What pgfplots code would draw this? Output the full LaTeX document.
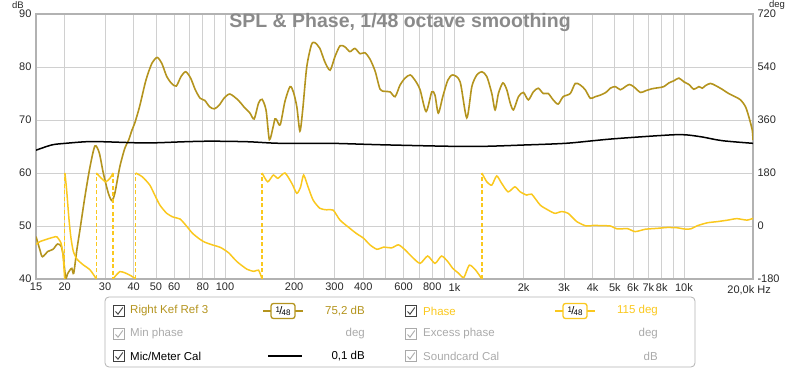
\documentclass[border=0pt]{standalone}
\usepackage{pgfplots}
\pgfplotsset{compat=1.18}
\usepackage{fontspec}
\setmainfont{Liberation Sans}
\definecolor{splc}{RGB}{180,148,30}
\definecolor{phc}{RGB}{250,200,30}
\definecolor{gridc}{RGB}{208,208,208}
\definecolor{framec}{RGB}{178,178,178}
\definecolor{titlec}{RGB}{138,138,138}
\definecolor{dimc}{RGB}{170,170,170}
\definecolor{tickc}{RGB}{40,40,40}

\newcommand{\chk}[3]{%
  \draw[#3, line width=0.6pt] (#1-5.5pt,#2-5.5pt) rectangle (#1+5.5pt,#2+5.5pt);
  \draw[#3, line width=0.9pt] (#1-3.5pt,#2-0.5pt) -- (#1-1pt,#2-3.2pt) -- (#1+3.8pt,#2+3.5pt);
}
\newcommand{\badge}[3]{%
  \draw[#3, line width=1.3pt] (#1-20pt,#2) -- (#1+20pt,#2);
  \node[draw=#3, fill=white, line width=1.3pt, rounded corners=2.5pt, inner sep=0.5pt,
        minimum width=24pt, minimum height=15pt, text=black] at (#1,#2)
        {\raisebox{2pt}{\fontsize{8}{8}\selectfont 1}\kern-0.6pt{\fontsize{11}{11}\selectfont/}\kern-0.8pt\raisebox{-0.8pt}{\fontsize{8}{8}\selectfont 48}};
}

\begin{document}
\begin{tikzpicture}[font=\fontsize{11.5}{13}\selectfont]
\useasboundingbox (-36pt,-92pt) rectangle (764pt,279pt);

\begin{axis}[
  at={(0pt,0pt)}, anchor=south west, scale only axis,
  width=717pt, height=265pt,
  xmode=log, xmin=15, xmax=20000, ymin=40, ymax=90,
  xtick={15,20,30,40,50,60,70,80,90,100,200,300,400,500,600,700,800,900,1000,2000,3000,4000,5000,6000,7000,8000,9000,10000,20000},
  xticklabels={15,20,30,40,50,60,,80,,100,200,300,400,,600,,800,,1k,2k,3k,4k,5k,6k,7k,8k,,10k,},
  ytick={40,50,60,70,80,90},
  yticklabels={40,50,60,70,80,90},
  grid=major,
  major grid style={gridc, line width=0.8pt},
  major tick length=0pt,
  axis line style={framec, line width=1.6pt},
  xticklabel style={text=tickc, font=\fontsize{11}{12}\selectfont, yshift=-0.5pt},
  yticklabel style={text=tickc, font=\fontsize{11}{12}\selectfont, xshift=-1pt},
]
% SPL (Right Kef Ref 3)
\addplot[splc, line width=1.6pt, smooth, tension=0.45] coordinates {
(15,48.0)(15.6,45.5)(16,44.2)(16.9,45.2)(17.8,45.6)(18.6,46.6)(19.3,46.2)(19.7,44.5)(20.2,40.2)(20.6,41.0)(21.1,41.7)(21.5,42.0)(21.9,41.1)(22.6,45.5)(23.3,49.2)(24.5,55.5)(25.8,61.2)(27.1,65.1)(28.3,63.8)(29.5,59.9)(31.0,56.2)(32.1,54.8)(33.1,56.2)(34.8,61.2)(36.6,64.7)(38.0,66.2)(39.3,68.1)(40.4,69.4)(42.4,72.5)(45.2,77.5)(48,80.7)(50.6,81.8)(53,80.7)(55.7,78.2)(58.5,76.9)(61.3,76.4)(64.3,78.2)(67.4,79.1)(70.8,77.9)(74.2,75.7)(77.9,74.1)(81.6,73.7)(85.6,72.5)(89.8,72.1)(94.3,72.8)(99,74.1)(105,74.9)(114.4,73.7)(120.7,72.5)(128.4,71.3)(133.9,70.2)(140,73.2)(145,73.9)(151,71.8)(156,66.3)(162,68.7)(165,70.2)(168,70.0)(174,69.1)(182.4,73.5)(192,76.3)(198.5,75.3)(205.5,72.5)(212,67.9)(218,71.9)(227,80)(238,84.2)(246,84.6)(259,83.5)(272,81)(287,79.4)(301,81.9)(317,84)(333,83.8)(350,82.9)(368,83.5)(388,82.5)(407,82.7)(428,81.5)(451,79.2)(474,75.8)(498,75.4)(524,75.3)(551,74.4)(579,76.6)(609,77.9)(641,78.5)(673,77.5)(708,75.7)(752,71.6)(796,75.3)(822,74.7)(850,71.3)(889,74.4)(935,77.5)(983,78.5)(1058,77.2)(1131,70.4)(1190,76.3)(1251,78.5)(1316,79.1)(1383,78.2)(1454,75)(1503,71.9)(1554,75)(1625,77)(1690,75.7)(1749,73.2)(1808,71.9)(1900,74.4)(1997,75.2)(2098,73.8)(2205,75.3)(2318,76)(2436,75)(2561,75)(2692,73.8)(2830,73)(2975,74.4)(3196,75)(3360,76.9)(3534,76.6)(3715,75.7)(3908,74.1)(4109,74.4)(4321,74.7)(4570,75.2)(4777,76)(5024,76.3)(5283,75.7)(5555,76.3)(5783,76.7)(6032,76.3)(6458,75.2)(6791,75.5)(7265,75.9)(7777,76.1)(8178,76.3)(8598,77)(9041,77.4)(9507,77.9)(9996,77.2)(10510,76.7)(11050,75.8)(11620,76.3)(12010,76)(12430,76.5)(13050,76.9)(13730,76.5)(14670,75.8)(15660,75)(16690,74.4)(17640,73.8)(18550,72.5)(19180,70.6)(19850,68.1)(20000,66.2)
};
% Mic/Meter Cal
\addplot[black, line width=1.5pt, smooth] coordinates {
(15,64.3)(17.6,65.3)(20.2,65.6)(24.8,65.9)(29.3,65.9)(40.8,65.7)(50,65.7)(67,65.9)(86.7,66.0)(125,65.9)(173.6,65.6)(287,65.6)(506,65.3)(1170,65.0)(2064,65.3)(3050,65.6)(4040,66.1)(4777,66.4)(6370,66.8)(8890,67.2)(10200,67.2)(12000,66.8)(14670,66.1)(20000,65.6)
};
\end{axis}

\begin{axis}[
  at={(0pt,0pt)}, anchor=south west, scale only axis,
  width=717pt, height=265pt,
  xmode=log, xmin=15, xmax=20000, ymin=-180, ymax=720,
  axis x line=none, axis y line*=right,
  y axis line style={draw=none},
  ytick={-180,0,180,360,540,720},
  yticklabels={-180,0,180,360,540,720},
  major tick length=0pt,
  yticklabel style={text=tickc, font=\fontsize{11}{12}\selectfont, xshift=1pt},
]
\addplot[phc, line width=1.5pt, smooth, tension=0.4] coordinates {
(15,-62)(15.6,-53)(16.7,-45)(17.9,-38)(18.5,-37)(19.3,-59)(19.7,-104)(20,-180)};
\addplot[phc, line width=1.3pt, dash pattern=on 4pt off 2.5pt] coordinates {(20,-180)(20,180)};
\addplot[phc, line width=1.5pt, smooth, tension=0.4] coordinates {
(20.05,180)(20.4,122)(20.9,20)(21.3,-40)(21.8,-85)(22.6,-112)(24.1,-132)(25.8,-149)(27.5,-180)};
\addplot[phc, line width=1.3pt, dash pattern=on 4pt off 2.5pt] coordinates {(27.5,-180)(27.5,180)};
\addplot[phc, line width=1.5pt, smooth, tension=0.4] coordinates {
(27.5,180)(28.9,162)(30.2,150)(31.5,162)(32.5,180)};
\addplot[phc, line width=1.3pt, dash pattern=on 4pt off 2.5pt] coordinates {(32.5,180)(32.5,-180)};
\addplot[phc, line width=1.5pt, smooth, tension=0.4] coordinates {
(32.5,-180)(33.1,-172)(34.8,-155)(36.6,-159)(38.9,-169)(40.8,-180)};
\addplot[phc, line width=1.3pt, dash pattern=on 4pt off 2.5pt] coordinates {(40.8,-180)(40.8,180)};
\addplot[phc, line width=1.5pt, smooth, tension=0.4] coordinates {
(40.8,180)(43.6,167)(47,139)(49.4,105)(52,71)(55.7,43)(59.5,30)(63.6,24)(67.4,3)(72.2,-25)(77.7,-45)(81.6,-55)(88,-64)(95,-72)(99,-80)(104,-92)(112.7,-121)(124.7,-147)(133.8,-154)(140,-150)(145,-180)};
\addplot[phc, line width=1.3pt, dash pattern=on 4pt off 2.5pt] coordinates {(145,-180)(145,180)};
\addplot[phc, line width=1.5pt, smooth, tension=0.4] coordinates {
(145,180)(153.4,150)(162.3,173)(170,162)(182.4,180)(195.4,145)(205.5,111)(213.5,133)(220,173)(230,133)(242,88)(259,60)(277,55)(296,54)(317,20)(350,-8)(373,-25)(402,-42)(428,-64)(459,-79)(490,-72)(533,-74)(570,-64)(609,-81)(651,-104)(708,-127)(764,-102)(822,-127)(878,-102)(935,-121)(983,-144)(1040,-160)(1098,-175)(1160,-133)(1237,-150)(1316,-180)};
\addplot[phc, line width=1.3pt, dash pattern=on 4pt off 2.5pt] coordinates {(1316,-180)(1316,180)};
\addplot[phc, line width=1.5pt, smooth, tension=0.4] coordinates {
(1316,180)(1383,150)(1454,139)(1527,170)(1605,145)(1713,116)(1833,133)(1934,116)(2064,105)(2170,108)(2364,71)(2561,54)(2740,43)(2930,49)(3130,43)(3410,15)(3750,0)(4040,2)(4440,1)(4777,0)(5130,-10)(5670,-9)(6130,-19)(6790,-11)(7645,-8)(8450,-5)(9350,-6)(9990,-10)(10680,-10)(11440,1)(12670,11)(14020,15)(15530,20)(17000,25)(18800,20)(20000,26)};
\end{axis}

% title and unit labels
\node[font=\fontsize{19.5}{22}\selectfont\bfseries, text=titlec] at (364pt,256pt) {SPL \& Phase, 1/48 octave smoothing};
\node[text=tickc, font=\fontsize{9.5}{11}\selectfont] at (-18pt,274pt) {dB};
\node[text=tickc, font=\fontsize{9.5}{11}\selectfont] at (741pt,274pt) {deg};
\node[text=tickc, anchor=north east, inner sep=0pt, font=\fontsize{11}{12}\selectfont] at (735pt,-6.5pt) {20,0k Hz};

% legend panel
\draw[framec, rounded corners=4pt, line width=0.8pt] (69pt,-18pt) rectangle (659pt,-88pt);
\chk{83pt}{-32pt}{black!75}
\chk{83pt}{-55pt}{dimc}
\chk{83pt}{-77pt}{black!75}
\chk{375pt}{-32pt}{black!75}
\chk{375pt}{-55pt}{dimc}
\chk{375pt}{-77pt}{dimc}
\begin{scope}[every node/.style={inner sep=0pt}]
\node[anchor=west, text=splc] at (94pt,-32pt) {Right Kef Ref 3};
\node[anchor=east, text=splc] at (329pt,-32pt) {75,2 dB};
\node[anchor=west, text=phc] at (387pt,-32pt) {Phase};
\node[anchor=east, text=phc] at (622pt,-32pt) {115 deg};
\node[anchor=west, text=dimc] at (94pt,-55pt) {Min phase};
\node[anchor=east, text=dimc] at (329pt,-55pt) {deg};
\node[anchor=west, text=dimc] at (387pt,-55pt) {Excess phase};
\node[anchor=east, text=dimc] at (622pt,-55pt) {deg};
\node[anchor=west, text=black] at (94pt,-77pt) {Mic/Meter Cal};
\node[anchor=east, text=black] at (329pt,-77pt) {0,1 dB};
\node[anchor=west, text=dimc] at (387pt,-77pt) {Soundcard Cal};
\node[anchor=east, text=dimc] at (622pt,-77pt) {dB};
\end{scope}
\badge{247pt}{-32pt}{splc}
\badge{539pt}{-32pt}{phc}
\draw[black, line width=1.5pt] (232pt,-77pt) -- (266pt,-77pt);
\end{tikzpicture}
\end{document}
